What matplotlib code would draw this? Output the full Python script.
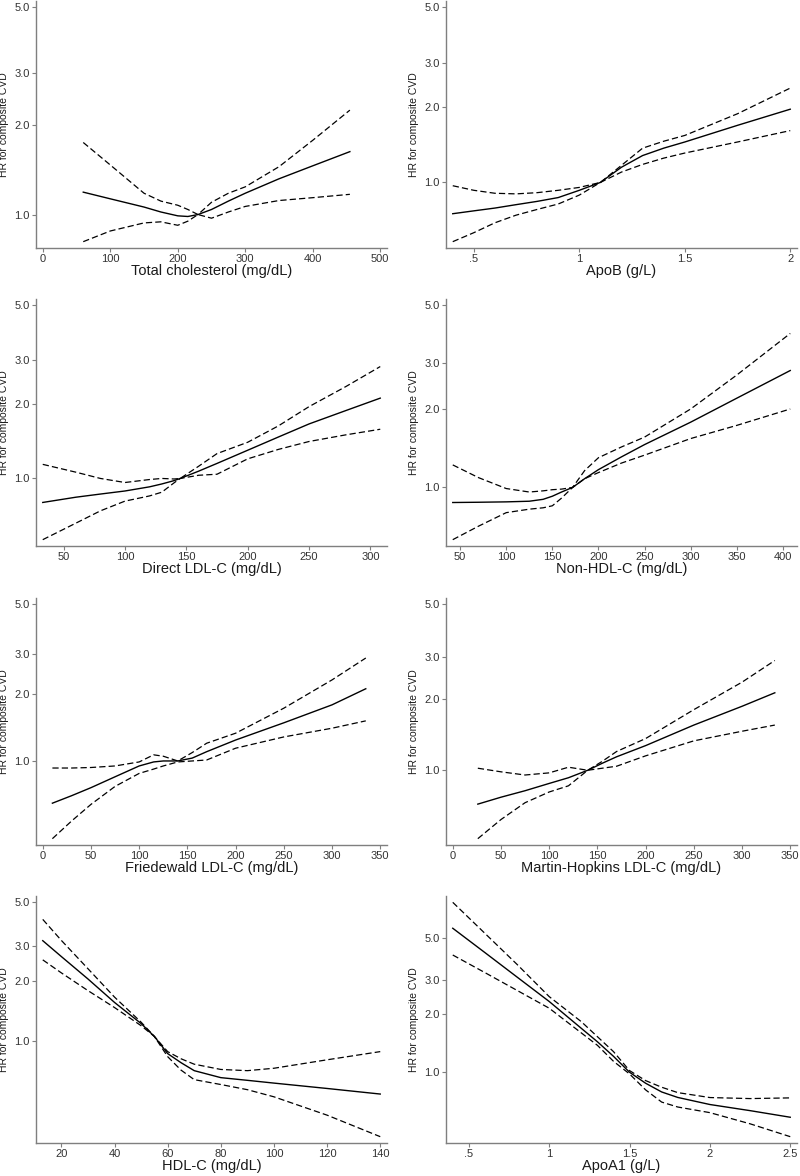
import matplotlib
matplotlib.use("Agg")
import matplotlib.pyplot as plt
import numpy as np

plt.rcParams['font.family'] = ['Liberation Sans', 'DejaVu Sans']

# ---------------- data ----------------
tc_x = [60, 100, 150, 175, 200, 215, 230, 250, 275, 300, 350, 400, 455]
tc_hr = [1.19, 1.13, 1.06, 1.02, 0.99, 0.985, 1.0, 1.04, 1.11, 1.18, 1.32, 1.46, 1.63]
tc_up = [1.75, 1.47, 1.18, 1.11, 1.075, 1.04, 1.0, 1.10, 1.18, 1.24, 1.45, 1.78, 2.25]
tc_lo = [0.81, 0.88, 0.937, 0.945, 0.92, 0.95, 1.0, 0.972, 1.02, 1.065, 1.115, 1.14, 1.17]

apob_x = [0.4, 0.5, 0.6, 0.7, 0.8, 0.9, 1.0, 1.1, 1.2, 1.3, 1.4, 1.5, 1.75, 2.0]
apob_hr = [0.75, 0.77, 0.79, 0.815, 0.84, 0.87, 0.93, 1.0, 1.15, 1.28, 1.37, 1.45, 1.69, 1.96]
apob_up = [0.97, 0.93, 0.905, 0.90, 0.91, 0.93, 0.955, 1.0, 1.17, 1.37, 1.46, 1.54, 1.88, 2.38]
apob_lo = [0.58, 0.63, 0.69, 0.74, 0.78, 0.82, 0.89, 1.0, 1.10, 1.18, 1.25, 1.31, 1.45, 1.61]

dldl_x = [33, 60, 80, 100, 120, 130, 140, 145, 160, 175, 200, 225, 250, 280, 308]
dldl_hr = [0.80, 0.84, 0.865, 0.89, 0.925, 0.95, 0.98, 1.0, 1.07, 1.15, 1.30, 1.47, 1.66, 1.88, 2.11]
dldl_up = [1.14, 1.06, 1.0, 0.963, 0.99, 1.0, 0.995, 1.0, 1.12, 1.26, 1.40, 1.63, 1.95, 2.35, 2.83]
dldl_lo = [0.566, 0.66, 0.74, 0.81, 0.85, 0.88, 0.96, 1.0, 1.03, 1.04, 1.20, 1.31, 1.41, 1.50, 1.58]

nhdl_x = [42, 70, 100, 125, 140, 150, 160, 172, 185, 200, 225, 250, 300, 350, 408]
nhdl_hr = [0.875, 0.877, 0.88, 0.885, 0.90, 0.925, 0.96, 1.0, 1.08, 1.17, 1.31, 1.46, 1.78, 2.2, 2.81]
nhdl_up = [1.22, 1.09, 0.99, 0.96, 0.97, 0.98, 0.985, 1.0, 1.16, 1.30, 1.43, 1.56, 2.0, 2.7, 3.9]
nhdl_lo = [0.63, 0.71, 0.80, 0.825, 0.835, 0.85, 0.91, 1.0, 1.08, 1.14, 1.24, 1.33, 1.54, 1.73, 2.0]

fldl_x = [10, 30, 50, 75, 100, 115, 125, 140, 155, 170, 200, 250, 300, 335]
fldl_hr = [0.648, 0.70, 0.76, 0.85, 0.95, 0.99, 1.0, 1.0, 1.03, 1.10, 1.24, 1.48, 1.78, 2.10]
fldl_up = [0.93, 0.93, 0.935, 0.95, 0.99, 1.065, 1.05, 1.0, 1.09, 1.20, 1.33, 1.72, 2.30, 2.88]
fldl_lo = [0.45, 0.54, 0.64, 0.77, 0.88, 0.92, 0.95, 0.99, 1.0, 1.01, 1.14, 1.28, 1.40, 1.51]

mhldl_x = [26, 50, 75, 100, 120, 140, 155, 170, 200, 250, 300, 334]
mhldl_hr = [0.72, 0.77, 0.82, 0.88, 0.93, 1.0, 1.07, 1.14, 1.27, 1.55, 1.86, 2.12]
mhldl_up = [1.02, 0.985, 0.955, 0.975, 1.03, 1.0, 1.09, 1.20, 1.36, 1.80, 2.35, 2.90]
mhldl_lo = [0.515, 0.62, 0.73, 0.81, 0.86, 1.0, 1.02, 1.04, 1.15, 1.33, 1.46, 1.55]

hdl_x = [13, 20, 30, 40, 50, 55, 60, 65, 70, 80, 90, 100, 120, 140]
hdl_hr = [3.2, 2.66, 2.05, 1.56, 1.22, 1.05, 0.86, 0.774, 0.705, 0.65, 0.63, 0.61, 0.573, 0.537]
hdl_up = [4.1, 3.21, 2.31, 1.66, 1.24, 1.05, 0.88, 0.81, 0.76, 0.715, 0.705, 0.725, 0.80, 0.88]
hdl_lo = [2.56, 2.2, 1.79, 1.47, 1.19, 1.05, 0.83, 0.71, 0.635, 0.60, 0.565, 0.52, 0.42, 0.327]

apoa_x = [0.4, 0.6, 0.8, 1.0, 1.2, 1.3, 1.4, 1.5, 1.6, 1.7, 1.8, 2.0, 2.25, 2.5]
apoa_hr = [5.59, 4.18, 3.12, 2.33, 1.69, 1.44, 1.21, 1.0, 0.877, 0.79, 0.74, 0.68, 0.632, 0.584]
apoa_up = [7.62, 5.26, 3.63, 2.47, 1.83, 1.53, 1.28, 1.02, 0.905, 0.836, 0.784, 0.739, 0.73, 0.736]
apoa_lo = [4.06, 3.29, 2.66, 2.15, 1.6, 1.38, 1.14, 0.98, 0.81, 0.70, 0.66, 0.617, 0.54, 0.463]

titles = ["Total cholesterol (mg/dL)", "ApoB (g/L)", "Direct LDL-C (mg/dL)",
          "Non-HDL-C (mg/dL)", "Friedewald LDL-C (mg/dL)",
          "Martin-Hopkins LDL-C (mg/dL)", "HDL-C (mg/dL)", "ApoA1 (g/L)"]
xticks = [[0, 100, 200, 300, 400, 500], [0.5, 1, 1.5, 2],
          [50, 100, 150, 200, 250, 300], [50, 100, 150, 200, 250, 300, 350, 400],
          [0, 50, 100, 150, 200, 250, 300, 350], [0, 50, 100, 150, 200, 250, 300, 350],
          [20, 40, 60, 80, 100, 120, 140], [0.5, 1, 1.5, 2, 2.5]]
xticklabels = [["0", "100", "200", "300", "400", "500"], [".5", "1", "1.5", "2"],
               ["50", "100", "150", "200", "250", "300"],
               ["50", "100", "150", "200", "250", "300", "350", "400"],
               ["0", "50", "100", "150", "200", "250", "300", "350"],
               ["0", "50", "100", "150", "200", "250", "300", "350"],
               ["20", "40", "60", "80", "100", "120", "140"],
               [".5", "1", "1.5", "2", "2.5"]]
yticks = [1.0, 2.0, 3.0, 5.0]
yticklabels = ["1.0", "2.0", "3.0", "5.0"]
ylabel = "HR for composite CVD"

series = [(tc_x, tc_hr, tc_up, tc_lo), (apob_x, apob_hr, apob_up, apob_lo),
          (dldl_x, dldl_hr, dldl_up, dldl_lo), (nhdl_x, nhdl_hr, nhdl_up, nhdl_lo),
          (fldl_x, fldl_hr, fldl_up, fldl_lo), (mhldl_x, mhldl_hr, mhldl_up, mhldl_lo),
          (hdl_x, hdl_hr, hdl_up, hdl_lo), (apoa_x, apoa_hr, apoa_up, apoa_lo)]

# ---------------- figure ----------------
W, H = 800, 1176
fig = plt.figure(figsize=(W / 100, H / 100), dpi=100)
fig.patch.set_facecolor("white")

col_left = [36, 446]
ax_w = 351
row_bottom = [248, 546, 845, 1143]
ax_h = 247
spine_col = "#7f7f7f"
text_col = "#333333"

for i, (xs, hr, up, lo) in enumerate(series):
    r, c = divmod(i, 2)
    left = col_left[c] / W
    bottom = 1 - row_bottom[r] / H
    ax = fig.add_axes([left, bottom, ax_w / W, ax_h / H])
    ax.set_yscale("log")
    ax.plot(xs, hr, color="black", lw=1.0, solid_joinstyle="round")
    ax.plot(xs, up, color="black", lw=0.9, dashes=(5, 2.5))
    ax.plot(xs, lo, color="black", lw=0.9, dashes=(5, 2.5))

    # limits: data and ticks, with a small margin
    xmin = min(min(xs), xticks[i][0])
    xmax = max(max(xs), xticks[i][-1])
    xp = 0.02 * (xmax - xmin)
    ax.set_xlim(xmin - xp, xmax + xp)
    ylo = np.log(min(lo))
    yhi = np.log(max(max(up), yticks[-1]))
    yp = 0.027 * (yhi - ylo)
    ax.set_ylim(np.exp(ylo - yp), np.exp(yhi + yp))

    ax.set_xticks(xticks[i])
    ax.set_xticklabels(xticklabels[i])
    ax.set_yticks(yticks)
    ax.set_yticklabels(yticklabels)
    ax.yaxis.set_minor_locator(matplotlib.ticker.NullLocator())
    ax.tick_params(axis="both", direction="out", length=3, width=0.8,
                   color=spine_col, labelsize=8, labelcolor=text_col, pad=1.5)
    for s in ["top", "right"]:
        ax.spines[s].set_visible(False)
    for s in ["left", "bottom"]:
        ax.spines[s].set_color(spine_col)
        ax.spines[s].set_linewidth(1.0)
    ax.set_xlabel(titles[i], fontsize=10.5, color="#1a1a1a", labelpad=0)
    ax.set_ylabel(ylabel, fontsize=7.5, color="#1a1a1a", labelpad=4)

fig.savefig("out.png", dpi=100, facecolor="white")
